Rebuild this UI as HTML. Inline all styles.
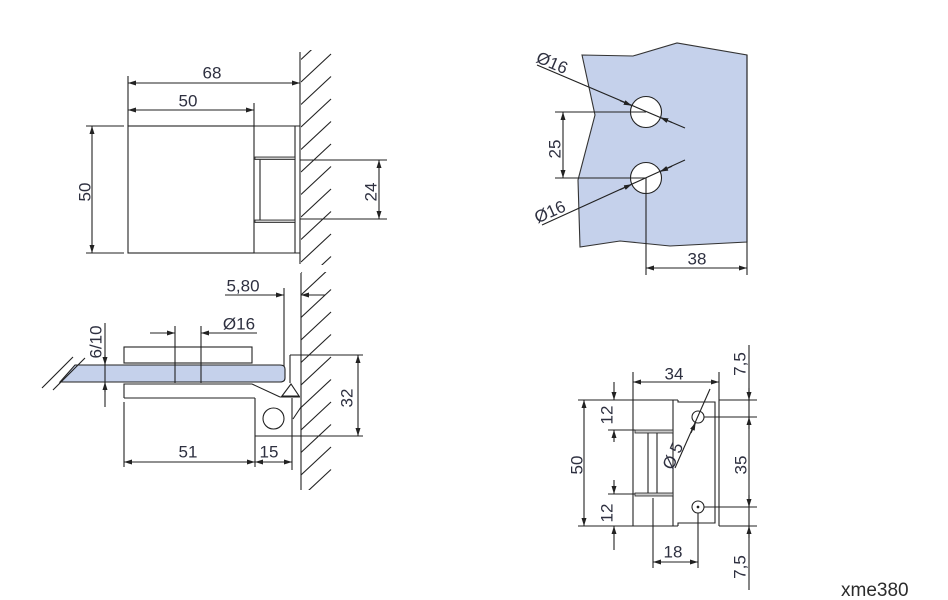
<!DOCTYPE html>
<html><head><meta charset="utf-8"><style>
html,body{margin:0;padding:0;background:#fff;}
svg{display:block;}
text{font-family:"Liberation Sans",sans-serif;font-size:17px;fill:#2e3040;}
</style></head><body>
<svg width="948" height="600" viewBox="0 0 948 600" xmlns="http://www.w3.org/2000/svg">
<defs>
<marker id="a" viewBox="0 0 8 5" refX="8" refY="2.5" markerWidth="8" markerHeight="5" markerUnits="userSpaceOnUse" orient="auto-start-reverse"><path d="M0,0L8,2.5L0,5z" fill="#222"/></marker>
<clipPath id="c1"><rect x="301" y="50" width="34" height="215"/></clipPath>
<clipPath id="c2"><rect x="301" y="272" width="34" height="218"/></clipPath>
</defs>
<rect width="948" height="600" fill="#fff"/>
<g stroke="#222" stroke-width="1.1" fill="none">
<!-- TOP LEFT -->
<g clip-path="url(#c1)">
<line x1="301" y1="59.5" x2="331" y2="31.5"/><line x1="301" y1="82" x2="331" y2="54"/><line x1="301" y1="104.5" x2="331" y2="76.5"/><line x1="301" y1="127" x2="331" y2="99"/><line x1="301" y1="149.5" x2="331" y2="121.5"/><line x1="301" y1="172" x2="331" y2="144"/><line x1="301" y1="194.5" x2="331" y2="166.5"/><line x1="301" y1="217" x2="331" y2="189"/><line x1="301" y1="239.5" x2="331" y2="211.5"/><line x1="301" y1="262" x2="331" y2="234"/><line x1="301" y1="284.5" x2="331" y2="256.5"/>
</g>
<line x1="128" y1="76" x2="128" y2="126"/>
<line x1="254" y1="103" x2="254" y2="126"/>
<line x1="300" y1="52" x2="300" y2="264"/>
<line x1="128" y1="83" x2="300" y2="83" marker-start="url(#a)" marker-end="url(#a)"/>
<line x1="128" y1="110" x2="254" y2="110" marker-start="url(#a)" marker-end="url(#a)"/>
<rect x="128" y="126" width="126" height="127"/>
<line x1="254" y1="126" x2="300" y2="126"/>
<line x1="254" y1="253" x2="300" y2="253"/>
<line x1="295" y1="126" x2="295" y2="253"/>
<rect x="255" y="157" width="40" height="2.5" fill="#c8c8c8" stroke-width="0.8"/>
<rect x="255" y="220" width="40" height="2.5" fill="#c8c8c8" stroke-width="0.8"/>
<line x1="260" y1="159.5" x2="260" y2="220"/>
<line x1="300" y1="160" x2="387" y2="160"/>
<line x1="300" y1="219" x2="387" y2="219"/>
<line x1="379" y1="160" x2="379" y2="219" marker-start="url(#a)" marker-end="url(#a)"/>
<line x1="86" y1="126" x2="124" y2="126"/>
<line x1="86" y1="253" x2="124" y2="253"/>
<line x1="92" y1="126" x2="92" y2="253" marker-start="url(#a)" marker-end="url(#a)"/>

<!-- BOTTOM LEFT -->
<g clip-path="url(#c2)">
<line x1="301" y1="272.5" x2="331" y2="244.5"/><line x1="301" y1="295" x2="331" y2="267"/><line x1="301" y1="317.5" x2="331" y2="289.5"/><line x1="301" y1="340" x2="331" y2="312"/><line x1="301" y1="362.5" x2="331" y2="334.5"/><line x1="301" y1="385" x2="331" y2="357"/><line x1="301" y1="407.5" x2="331" y2="379.5"/><line x1="301" y1="430" x2="331" y2="402"/><line x1="301" y1="452.5" x2="331" y2="424.5"/><line x1="301" y1="475" x2="331" y2="447"/><line x1="301" y1="497.5" x2="331" y2="469.5"/><line x1="301" y1="520" x2="331" y2="492"/>
</g>
<line x1="301" y1="273" x2="301" y2="490"/>
<line x1="284" y1="288" x2="284" y2="366"/>
<line x1="225" y1="295" x2="284" y2="295" marker-end="url(#a)"/>
<line x1="325" y1="295" x2="301" y2="295" marker-end="url(#a)"/>
<line x1="175" y1="326" x2="175" y2="383"/>
<line x1="201" y1="326" x2="201" y2="383"/>
<line x1="150" y1="333" x2="175" y2="333" marker-end="url(#a)"/>
<line x1="257" y1="333" x2="201" y2="333" marker-end="url(#a)"/>
<rect x="124" y="347" width="128" height="16"/>
<path d="M75,365 L280,365 Q285,365 285,369 L285,378 Q285,382 280,382 L60,382 Z" fill="#c5d1eb"/>
<line x1="175" y1="365" x2="175" y2="382"/>
<line x1="201" y1="365" x2="201" y2="382"/>
<line x1="42" y1="388" x2="73" y2="357"/>
<line x1="53" y1="390" x2="85" y2="358"/>
<line x1="105" y1="323" x2="105" y2="407"/>
<line x1="105" y1="355" x2="105" y2="365" marker-end="url(#a)"/>
<line x1="105" y1="392" x2="105" y2="382" marker-end="url(#a)"/>
<path d="M124,398 L124,384 L252,384 L280,397"/>
<line x1="124" y1="398" x2="255" y2="398"/>
<line x1="255" y1="398" x2="255" y2="467"/>
<line x1="255" y1="436" x2="363" y2="436"/>
<line x1="292" y1="398" x2="292" y2="470"/>
<polygon points="291,384 282,396 299,396"/>
<line x1="280" y1="397" x2="300" y2="397"/>
<line x1="290" y1="355" x2="290" y2="383"/>
<line x1="290" y1="355" x2="363" y2="355"/>
<circle cx="273.5" cy="418.5" r="10.5"/>
<line x1="293" y1="419" x2="301" y2="407"/>
<line x1="358" y1="355" x2="358" y2="436" marker-start="url(#a)" marker-end="url(#a)"/>
<line x1="124" y1="402" x2="124" y2="467"/>
<line x1="124" y1="462" x2="255" y2="462" marker-start="url(#a)" marker-end="url(#a)"/>
<line x1="255" y1="462" x2="292" y2="462" marker-start="url(#a)" marker-end="url(#a)"/>

<!-- TOP RIGHT -->
<polygon points="582,55 633,56 677,43 747,55 747,242 670,246 620,241 580,247 578,180 595,115" fill="#c5d1eb" stroke="#333"/>
<line x1="747" y1="55" x2="747" y2="275"/>
<circle cx="646" cy="112" r="15.5" fill="#fff"/>
<circle cx="646" cy="178" r="15.5" fill="#fff"/>
<line x1="555" y1="112" x2="646" y2="112"/>
<line x1="555" y1="178" x2="646" y2="178"/>
<line x1="563" y1="112" x2="563" y2="178" marker-start="url(#a)" marker-end="url(#a)"/>
<line x1="537" y1="65" x2="685" y2="128"/>
<line x1="620" y1="100.6" x2="631.7" y2="105.6" marker-end="url(#a)"/>
<line x1="672" y1="122.5" x2="660.3" y2="117.5" marker-end="url(#a)"/>
<line x1="542" y1="225" x2="685" y2="160"/>
<line x1="620" y1="189.7" x2="631.9" y2="184.3" marker-end="url(#a)"/>
<line x1="672" y1="166.2" x2="660.1" y2="171.6" marker-end="url(#a)"/>
<line x1="646" y1="178" x2="646" y2="275"/>
<line x1="646" y1="268" x2="747" y2="268" marker-start="url(#a)" marker-end="url(#a)"/>

<!-- BOTTOM RIGHT -->
<line x1="633" y1="372" x2="633" y2="526"/>
<line x1="578" y1="400" x2="678" y2="400"/>
<path d="M678,400 L678,402 L715,402 L715,523 L678,523 L678,526"/>
<line x1="578" y1="526" x2="678" y2="526"/>
<line x1="673" y1="400" x2="673" y2="526"/>
<line x1="719" y1="372" x2="719" y2="526"/>
<line x1="608" y1="430" x2="635" y2="430"/>
<rect x="635" y="430" width="38" height="3" fill="#c8c8c8" stroke-width="0.8"/>
<line x1="648" y1="433" x2="648" y2="493"/>
<line x1="657" y1="433" x2="657" y2="493"/>
<line x1="608" y1="494" x2="635" y2="494"/>
<rect x="635" y="493" width="38" height="3" fill="#c8c8c8" stroke-width="0.8"/>
<line x1="633" y1="382" x2="719" y2="382" marker-start="url(#a)" marker-end="url(#a)"/>
<line x1="584" y1="400" x2="584" y2="526" marker-start="url(#a)" marker-end="url(#a)"/>
<line x1="614" y1="382" x2="614" y2="400" marker-end="url(#a)"/>
<line x1="614" y1="442" x2="614" y2="430" marker-end="url(#a)"/>
<line x1="614" y1="480" x2="614" y2="494" marker-end="url(#a)"/>
<line x1="614" y1="550" x2="614" y2="526" marker-end="url(#a)"/>
<line x1="719" y1="400" x2="757" y2="400"/>
<line x1="719" y1="526" x2="757" y2="526"/>
<line x1="698" y1="417" x2="757" y2="417"/>
<line x1="698" y1="507" x2="757" y2="507"/>
<line x1="749" y1="345" x2="749" y2="590"/>
<line x1="749" y1="388" x2="749" y2="400" marker-end="url(#a)"/>
<line x1="749" y1="429" x2="749" y2="417" marker-end="url(#a)"/>
<line x1="749" y1="495" x2="749" y2="507" marker-end="url(#a)"/>
<line x1="749" y1="538" x2="749" y2="526" marker-end="url(#a)"/>
<line x1="653" y1="498" x2="653" y2="568"/>
<line x1="698" y1="507" x2="698" y2="568"/>
<line x1="653" y1="562" x2="698" y2="562" marker-start="url(#a)" marker-end="url(#a)"/>
<circle cx="698" cy="417" r="6" fill="#fff"/>
<circle cx="698" cy="507" r="6" fill="#fff"/>
<circle cx="698" cy="507" r="0.8" fill="#222"/>
<line x1="710" y1="389" x2="675" y2="468"/>
<line x1="691" y1="433" x2="695.6" y2="422.5" marker-end="url(#a)"/>
</g>

<!-- TEXT -->
<g text-anchor="middle" dominant-baseline="central">
<text x="212" y="73">68</text>
<text x="188" y="101">50</text>
<text transform="translate(85,192) rotate(-90)">50</text>
<text transform="translate(371,192) rotate(-90)">24</text>
<text x="243" y="286">5,80</text>
<text x="239" y="324">Ø16</text>
<text transform="translate(96,342) rotate(-90)">6/10</text>
<text x="188" y="452">51</text>
<text x="269" y="452">15</text>
<text transform="translate(347,398) rotate(-90)">32</text>
<text transform="translate(555,149) rotate(-90)">25</text>
<text x="697" y="259">38</text>
<text transform="translate(552,63) rotate(23)">Ø16</text>
<text transform="translate(550,212) rotate(-24)">Ø16</text>
<text x="674" y="374">34</text>
<text transform="translate(577,465) rotate(-90)">50</text>
<text transform="translate(607,415) rotate(-90)">12</text>
<text transform="translate(607,513) rotate(-90)">12</text>
<text transform="translate(740,364) rotate(-90)">7,5</text>
<text transform="translate(741,465) rotate(-90)">35</text>
<text transform="translate(740,567) rotate(-90)">7,5</text>
<text x="673" y="552">18</text>
<text transform="translate(673,456) rotate(-66)">Ø 5</text>
</g>
<text x="841" y="596" style="font-size:19px;fill:#2b2b2b;">xme380</text>
</svg>
</body></html>
